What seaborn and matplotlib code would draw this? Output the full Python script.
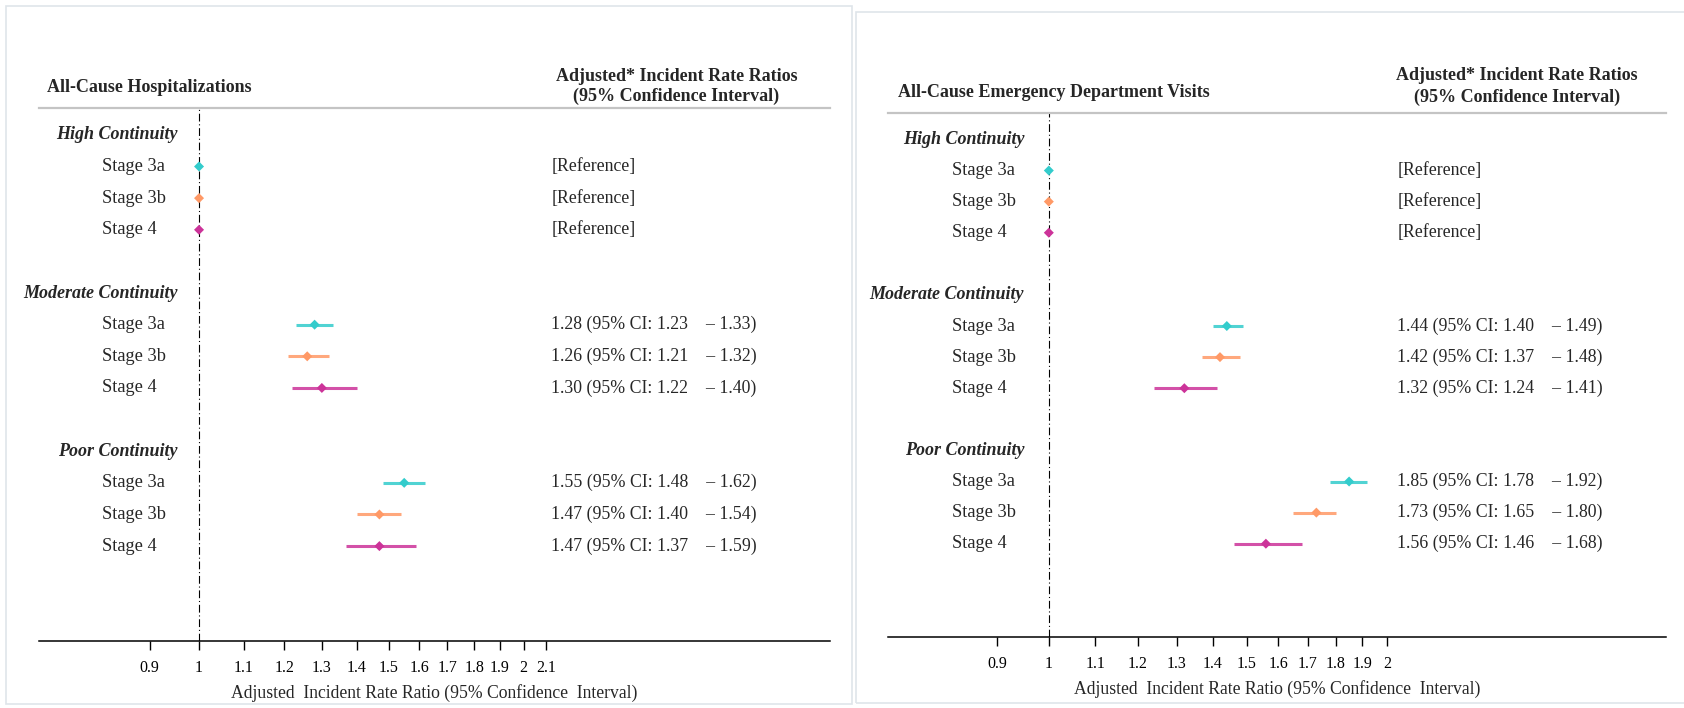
import matplotlib
matplotlib.use("Agg")
import matplotlib.pyplot as plt
import pandas as pd
import seaborn as sns
from matplotlib.patches import Rectangle
from matplotlib.ticker import NullLocator
from matplotlib.transforms import blended_transform_factory

# ---- data -------------------------------------------------------------
groups = ["High Continuity", "Moderate Continuity", "Poor Continuity"]
stages = ["Stage 3a", "Stage 3b", "Stage 4"]
stage_colors = ["#33CCCC", "#FF9966", "#CC3399"]

# adjusted incident rate ratios, Stage 3a / 3b / 4 within each continuity group
hosp_irr = [1.00, 1.00, 1.00, 1.28, 1.26, 1.30, 1.55, 1.47, 1.47]
hosp_lo = [None, None, None, 1.23, 1.21, 1.22, 1.48, 1.40, 1.37]
hosp_hi = [None, None, None, 1.33, 1.32, 1.40, 1.62, 1.54, 1.59]

ed_irr = [1.00, 1.00, 1.00, 1.44, 1.42, 1.32, 1.85, 1.73, 1.56]
ed_lo = [None, None, None, 1.40, 1.37, 1.24, 1.78, 1.65, 1.46]
ed_hi = [None, None, None, 1.49, 1.48, 1.41, 1.92, 1.80, 1.68]

hosp_ticks = [0.9, 1, 1.1, 1.2, 1.3, 1.4, 1.5, 1.6, 1.7, 1.8, 1.9, 2, 2.1]
ed_ticks = [0.9, 1, 1.1, 1.2, 1.3, 1.4, 1.5, 1.6, 1.7, 1.8, 1.9, 2]

hosp_title = "All-Cause Hospitalizations"
ed_title = "All-Cause Emergency Department Visits"
col_header = ["Adjusted* Incident Rate Ratios", "(95% Confidence Interval)"]
x_title = "Adjusted  Incident Rate Ratio (95% Confidence  Interval)"
ref_text = "[Reference]"

# ---- style ------------------------------------------------------------
sns.set_theme(style="white")
plt.rcParams["font.family"] = ["Liberation Serif", "DejaVu Serif"]
plt.rcParams["axes.facecolor"] = "white"

W, H = 1684, 708
fig = plt.figure(figsize=(W / 100, H / 100), dpi=100)
fig.patch.set_facecolor("white")


def fx(px):
    return px / W


def fy(py):
    return 1 - py / H


# light frames around the two panels
for (x0, y0, x1, y1) in [(6, 6, 852, 704), (856, 12, 1690, 703)]:
    fig.add_artist(Rectangle((fx(x0), fy(y1)), fx(x1) - fx(x0), fy(y0) - fy(y1),
                             transform=fig.transFigure, fill=False,
                             edgecolor="#dfe5ea", linewidth=1.2))


def draw_panel(ax, title, irr, lo, hi, ticks, xlim, layout):
    rows = [5 * g + 1 + s for g in range(3) for s in range(3)]
    df = pd.DataFrame({
        "irr": irr, "lo": lo, "hi": hi, "row": rows,
        "stage": stages * 3, "group": [g for g in groups for _ in stages],
    })
    palette = dict(zip(stages, stage_colors))

    ax.set_xscale("log")
    ax.set_xlim(*xlim)
    ax.set_ylim(16, -0.85)

    ax.axvline(1, color="black", lw=0.8, ls=(0, (7, 2.5, 1, 2.5)), zorder=1)

    ci = df.dropna(subset=["lo"])
    for _, r in ci.iterrows():
        ax.hlines(r["row"], r["lo"], r["hi"], color=palette[r["stage"]],
                  lw=2.2, alpha=0.85, zorder=2)
    sns.scatterplot(data=df, x="irr", y="row", hue="stage", palette=palette,
                    marker="D", s=26, linewidth=0, legend=False, ax=ax, zorder=3)

    ax.set_xticks(ticks, [f"{t:g}" for t in ticks])
    ax.xaxis.set_minor_locator(NullLocator())
    ax.set_yticks([])
    ax.set_ylabel("")
    ax.set_xlabel(x_title, fontsize=12.7, labelpad=6)
    ax.tick_params(axis="x", direction="out", length=6.5, width=1,
                   pad=7, labelsize=11.5, colors="black", bottom=True)

    for side in ("left", "right"):
        ax.spines[side].set_visible(False)
    ax.spines["top"].set_color("#c4c4c4")
    ax.spines["top"].set_linewidth(1.6)
    ax.spines["bottom"].set_color("black")
    ax.spines["bottom"].set_linewidth(1.1)

    tr = blended_transform_factory(ax.transAxes, ax.transData)
    x_stage, x_group, x_val, x_title_l, x_head, y_title, y_h1, y_h2 = layout

    for g, name in enumerate(groups):
        ax.text(x_group, 5 * g, name, transform=tr, ha="right", va="center",
                fontsize=13, fontweight="bold", fontstyle="italic")
    for _, r in df.iterrows():
        ax.text(x_stage, r["row"], r["stage"], transform=tr, ha="left",
                va="center", fontsize=13.2)
        if pd.isna(r["lo"]):
            label = ref_text
        else:
            label = f"{r['irr']:.2f} (95% CI: {r['lo']:.2f}    \u2013 {r['hi']:.2f})"
        ax.text(x_val, r["row"], label, transform=tr, ha="left", va="center",
                fontsize=12.8)

    ax.text(x_title_l, y_title, title, transform=tr, ha="left", va="center",
            fontsize=13, fontweight="bold", clip_on=False)
    ax.text(x_head, y_h1, col_header[0], transform=tr, ha="center",
            va="center", fontsize=13, fontweight="bold", clip_on=False)
    ax.text(x_head, y_h2, col_header[1], transform=tr, ha="center",
            va="center", fontsize=13, fontweight="bold", clip_on=False)


ax_l = fig.add_axes([fx(38.7), fy(641), fx(830) - fx(38.7), fy(108) - fy(641)])
draw_panel(ax_l, hosp_title, hosp_irr, hosp_lo, hosp_hi, hosp_ticks,
           (0.710, 3.849),
           (0.080, 0.176, 0.648, 0.011, 0.806, -1.49, -1.86, -1.22))

ax_r = fig.add_axes([fx(888), fy(637), fx(1666) - fx(888), fy(113) - fy(637)])
draw_panel(ax_r, ed_title, ed_irr, ed_lo, ed_hi, ed_ticks,
           (0.7193, 3.541),
           (0.082, 0.175, 0.6545, 0.013, 0.8085, -1.51, -2.05, -1.35))

fig.savefig("out.png", dpi=100, facecolor="white")
